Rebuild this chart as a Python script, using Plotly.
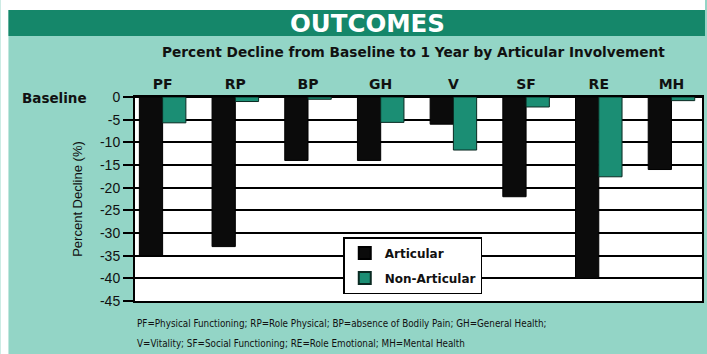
import plotly.graph_objects as go

# Canvas and plot-area geometry (pixels)
W, H = 707, 354
L, R, T, B = 135, 3, 97, 53
PW = W - L - R
PH = H - T - B


def px(x):
    """Pixel column -> paper x."""
    return (x - L) / PW


def py(y):
    """Pixel row -> paper y."""
    return 1 - (y - T) / PH


# Data: percent decline from baseline to 1 year
categories = ["PF", "RP", "BP", "GH", "V", "SF", "RE", "MH"]
articular = [-35, -33, -14, -14, -6, -22, -40, -16]
non_articular = [-5.7, -1, -0.5, -5.6, -11.7, -2.2, -17.6, -0.8]
y_ticks = [0, -5, -10, -15, -20, -25, -30, -35, -40, -45]

DARK_GREEN = "#15876a"
LIGHT_TEAL = "#93d5c6"
BAR_TEAL = "#1b8e74"
HEAVY = "DejaVu Sans, Verdana, sans-serif"
PLAIN = "Liberation Sans, Arial, sans-serif"
NARROW = "Liberation Sans Narrow, DejaVu Sans Condensed, sans-serif"

xpos = list(range(len(categories)))

fig = go.Figure()
fig.add_trace(go.Bar(
    x=xpos, y=articular, name="Articular", legendgroup="a",
    marker=dict(color="#0b0b0b", line=dict(color="#000000", width=1)),
))
fig.add_trace(go.Bar(
    x=xpos, y=non_articular, name="Non-Articular", legendgroup="b",
    marker=dict(color=BAR_TEAL, line=dict(color="#0a2a22", width=1)),
))

fig.update_layout(
    width=W, height=H,
    margin=dict(l=L, r=R, t=T, b=B, pad=0),
    paper_bgcolor=LIGHT_TEAL,
    plot_bgcolor="#ffffff",
    barmode="group",
    bargap=0.36,
    bargroupgap=0,
    showlegend=True,
    legend=dict(
        x=px(344), y=py(237), xanchor="left", yanchor="top",
        bgcolor="#ffffff", bordercolor="#000000", borderwidth=1.5,
        font=dict(family=HEAVY, size=12, color="#111111", weight=700),
        tracegroupgap=6, itemsizing="constant",
    ),
    xaxis=dict(
        range=[-0.38, 7.42],
        side="top",
        tickmode="array", tickvals=xpos, ticktext=categories,
        tickfont=dict(family=HEAVY, size=14, color="#111111", weight=700),
        ticks="", showgrid=False, zeroline=False,
        showline=True, linecolor="#000000", linewidth=2, mirror=True,
        fixedrange=True,
    ),
    yaxis=dict(
        range=[-45, 0],
        tickmode="array", tickvals=y_ticks,
        ticktext=[str(v) for v in y_ticks],
        tickfont=dict(family=PLAIN, size=14, color="#111111"),
        ticks="outside", ticklen=10, tickwidth=1.5, tickcolor="#000000",
        showgrid=True, gridcolor="#000000", gridwidth=1.6,
        zeroline=True, zerolinecolor="#000000", zerolinewidth=2,
        showline=True, linecolor="#000000", linewidth=2, mirror=True,
        title=dict(text="Percent Decline (%)", standoff=14,
                   font=dict(family=PLAIN, size=13, color="#111111")),
        fixedrange=True,
    ),
    font=dict(family=PLAIN, color="#111111"),
)

# Page furniture: white margin strips and the dark header band
fig.add_shape(type="rect", xref="paper", yref="paper",
              x0=px(0), x1=px(W), y0=py(10), y1=py(0),
              fillcolor="#ffffff", line=dict(width=0), layer="above")
fig.add_shape(type="rect", xref="paper", yref="paper",
              x0=px(0), x1=px(8), y0=py(H), y1=py(10),
              fillcolor="#ffffff", line=dict(width=0), layer="above")
fig.add_shape(type="rect", xref="paper", yref="paper",
              x0=px(8), x1=px(W), y0=py(36), y1=py(10),
              fillcolor=DARK_GREEN, line=dict(width=0), layer="above")

annotations = [
    dict(text="OUTCOMES", x=px(368), y=py(24),
         font=dict(family=HEAVY, size=24.5, color="#ffffff", weight=700)),
    dict(text="Percent Decline from Baseline to 1 Year by Articular Involvement",
         x=px(414), y=py(52),
         font=dict(family=HEAVY, size=13.7, color="#111111", weight=700)),
    dict(text="Baseline", x=px(20), y=py(98), xanchor="left",
         font=dict(family=HEAVY, size=13.5, color="#111111", weight=700)),
    dict(text="PF=Physical Functioning; RP=Role Physical; BP=absence of Bodily Pain; GH=General Health;",
         x=px(135), y=py(323), xanchor="left",
         font=dict(family=NARROW, size=9.8, color="#111111")),
    dict(text="V=Vitality; SF=Social Functioning; RE=Role Emotional; MH=Mental Health",
         x=px(135), y=py(343), xanchor="left",
         font=dict(family=NARROW, size=9.8, color="#111111")),
]
for a in annotations:
    a.setdefault("xanchor", "center")
    fig.add_annotation(xref="paper", yref="paper", yanchor="middle",
                       showarrow=False, **a)

fig.write_html("out.html")
